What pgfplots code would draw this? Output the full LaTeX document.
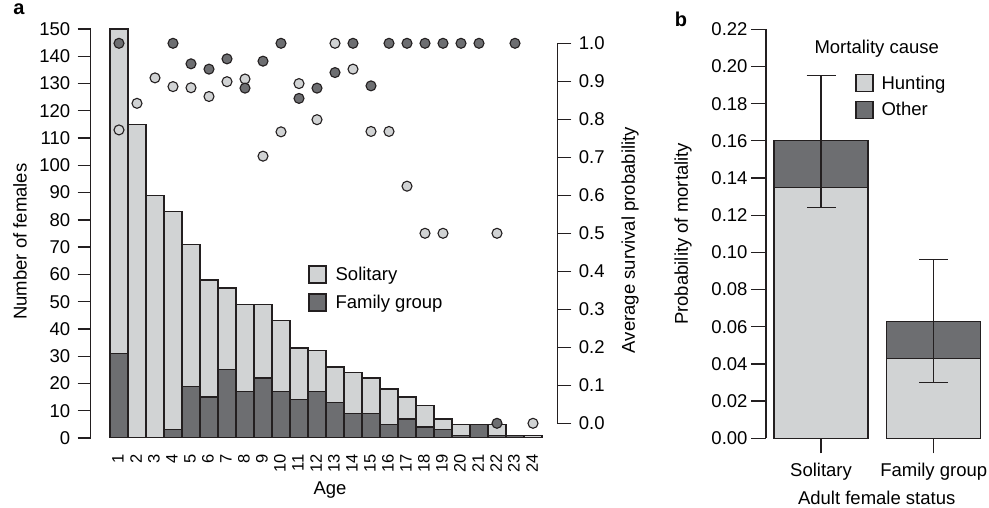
\documentclass[border=0pt]{standalone}
\usepackage{pgfplots}
\pgfplotsset{compat=1.18}
\usepackage{fontspec}
\setmainfont{Liberation Sans}
\definecolor{lightg}{HTML}{D1D3D4}
\definecolor{darkg}{HTML}{6D6E71}
\definecolor{edge}{HTML}{231F20}
\newcommand{\fs}{\fontsize{18.5bp}{22bp}\selectfont}
\newcommand{\fss}{\fontsize{16.5bp}{20bp}\selectfont}
\begin{document}
\begin{tikzpicture}
\useasboundingbox (0bp,0bp) rectangle (989bp,508bp);
\pgfplotsset{
  every axis/.append style={scale only axis, font=\fs,
    /pgf/number format/assume math mode=true,
    tick align=outside, enlargelimits=false,
    axis line style={edge, line width=1.3bp},
    tick style={edge, line width=1.3bp}},
}
% ---------- Panel a: bars ----------
\begin{axis}[at={(90.7bp,70bp)}, anchor=south west,
  width=466.6bp, height=409bp,
  xmin=-0.572, xmax=25.35, ymin=0, ymax=150,
  axis x line*=bottom, axis y line*=left,
  x axis line style={draw=none},
  xtick={1,...,24}, xtick style={draw=none},
  xticklabel style={rotate=90, anchor=east, font=\fss, yshift=1bp},
  ytick={0,10,...,150},
  yticklabel style={xshift=-4bp},
  major tick length=13bp,
  ylabel={Number of females},
  ylabel style={at={(rel axis cs:-0.1515,0.48)}, anchor=center},
  xlabel={Age},
  xlabel style={at={(rel axis cs:0.513,-0.127)}, anchor=center},
  ybar stacked, bar width=1,
  legend style={at={(rel axis cs:0.466,0.423)}, anchor=north west, draw=none, fill=none,
    font=\fs, row sep=9bp, inner sep=0pt,
    /tikz/every odd column/.append style={column sep=7bp}},
  legend cell align=left,
  legend image code/.code={\draw[#1] (0bp,-8.5bp) rectangle (17bp,8.5bp);},
]
\addplot[forget plot, fill=darkg, draw=edge, line width=1.3bp] coordinates {
(1,31) (2,0) (3,0) (4,3) (5,19) (6,15) (7,25) (8,17) (9,22) (10,17) (11,14) (12,17)
(13,13) (14,9) (15,9) (16,5) (17,7) (18,4) (19,3) (20,1) (21,5) (22,1) (23,1) (24,0)};
\addplot[forget plot, fill=lightg, draw=edge, line width=1.3bp] coordinates {
(1,119) (2,115) (3,89) (4,80) (5,52) (6,43) (7,30) (8,32) (9,27) (10,26) (11,19) (12,15)
(13,13) (14,15) (15,13) (16,13) (17,8) (18,8) (19,4) (20,4) (21,0) (22,4) (23,0) (24,1)};
\addlegendimage{fill=lightg, draw=edge, line width=1.3bp}
\addlegendentry{Solitary}
\addlegendimage{fill=darkg, draw=edge, line width=1.3bp}
\addlegendentry{Family group}
\end{axis}
% ---------- Panel a: survival points ----------
\begin{axis}[at={(90.7bp,84.7bp)}, anchor=south west,
  width=466.6bp, height=380bp,
  xmin=-0.572, xmax=25.35, ymin=0, ymax=1,
  axis y line*=right, axis x line=none, xtick=\empty,
  ytick={0,0.1,0.2,0.3,0.4,0.5,0.6,0.7,0.8,0.9,1},
  yticklabel style={xshift=4bp, /pgf/number format/.cd, fixed, fixed zerofill, precision=1},
  major tick length=14bp,
  ylabel={Average survival probability},
  ylabel style={at={(rel axis cs:1.156,0.482)}, anchor=center},
  clip=false,
]
\addplot[only marks, mark=*, mark size=5bp, mark options={fill=lightg, draw=edge, line width=1.1bp}] coordinates {
(1,0.772) (2,0.842) (3,0.909) (4,0.886) (5,0.883) (6,0.860) (7,0.899) (8,0.906)
(9,0.703) (10,0.767) (11,0.894) (12,0.799) (13,1.0) (14,0.932) (15,0.768) (16,0.768)
(17,0.624) (18,0.5) (19,0.5) (22,0.5) (24,0.0)};
\addplot[only marks, mark=*, mark size=5bp, mark options={fill=darkg, draw=edge, line width=1.1bp}] coordinates {
(1,1.0) (4,1.0) (5,0.946) (6,0.932) (7,0.959) (8,0.882) (9,0.953) (10,1.0) (11,0.855)
(12,0.882) (13,0.923) (14,1.0) (15,0.888) (16,1.0) (17,1.0) (18,1.0) (19,1.0) (20,1.0)
(21,1.0) (22,0.0) (23,1.0)};
\end{axis}
% ---------- Panel b ----------
\begin{axis}[at={(766bp,69.7bp)}, anchor=south west,
  width=214.7bp, height=409bp,
  xmin=0.512, xmax=2.417, ymin=0, ymax=0.22,
  axis x line*=bottom, axis y line*=left,
  x axis line style={draw=none},
  xtick={1,2}, xticklabels={Solitary, Family group},
  xticklabel style={yshift=-6bp},
  ytick={0,0.02,0.04,0.06,0.08,0.10,0.12,0.14,0.16,0.18,0.20,0.22},
  scaled y ticks=false,
  yticklabel style={/pgf/number format/.cd, fixed, fixed zerofill, precision=2},
  major tick length=15bp,
  ylabel={Probability of mortality},
  ylabel style={at={(rel axis cs:-0.3866,0.5)}, anchor=center},
  xlabel={Adult female status},
  xlabel style={at={(rel axis cs:0.5156,-0.146)}, anchor=center},
  ybar stacked, bar width=0.834,
  legend style={at={(rel axis cs:0.415,0.892)}, anchor=north west, draw=none, fill=none,
    font=\fs, row sep=8bp, inner sep=0pt,
    /tikz/every odd column/.append style={column sep=6bp}},
  legend cell align=left,
  legend image code/.code={\draw[#1] (0bp,-8.5bp) rectangle (17bp,8.5bp);},
  clip=false,
]
\addplot[forget plot, fill=lightg, draw=edge, line width=1.3bp] coordinates {(1,0.135) (2,0.043)};
\addplot[forget plot, fill=darkg, draw=edge, line width=1.3bp] coordinates {(1,0.025) (2,0.020)};
\addlegendimage{fill=lightg, draw=edge, line width=1.3bp}
\addlegendentry{Hunting}
\addlegendimage{fill=darkg, draw=edge, line width=1.3bp}
\addlegendentry{Other}
\node[font=\fs, anchor=center] at (rel axis cs:0.5156,0.952) {Mortality cause};
\end{axis}
\begin{axis}[at={(766bp,69.7bp)}, anchor=south west,
  width=214.7bp, height=409bp,
  xmin=0.512, xmax=2.417, ymin=0, ymax=0.22,
  axis lines=none, clip=false]
\addplot[mark=none, draw=none,
  error bars/.cd, y dir=both, y explicit, error mark=|,
  error bar style={draw=edge, line width=1.3bp},
  error mark options={draw=edge, line width=1.3bp, mark size=14.5bp}]
  coordinates {(1,0.16) += (0,0.035) -= (0,0.036) (2,0.063) += (0,0.033) -= (0,0.033)};
\end{axis}
\node[font=\bfseries\fontsize{20bp}{24bp}\selectfont, anchor=base] at (19bp,493bp) {a};
\node[font=\bfseries\fontsize{20bp}{24bp}\selectfont, anchor=base] at (681bp,481bp) {b};
\end{tikzpicture}
\end{document}
